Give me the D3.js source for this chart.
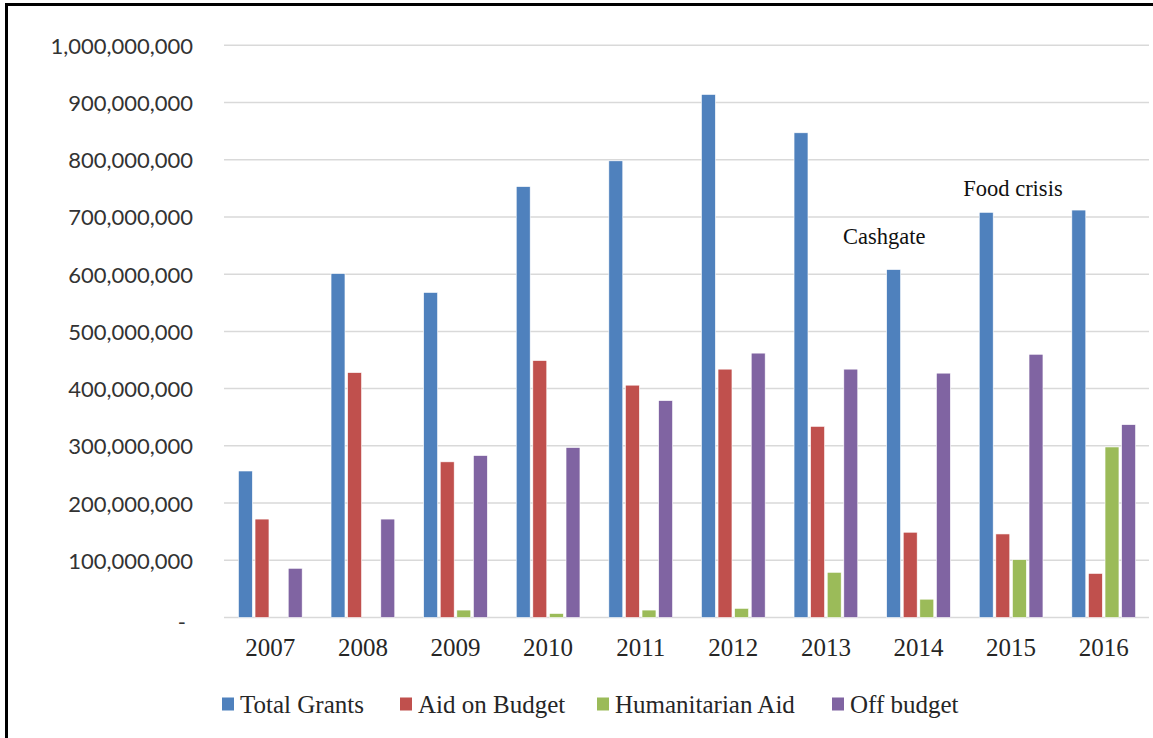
<!DOCTYPE html>
<html>
<head>
<meta charset="utf-8">
<script src="https://cdn.jsdelivr.net/npm/d3@7"></script>
<style>
  html, body { margin: 0; padding: 0; background: #fff; }
  svg { display: block; }
</style>
</head>
<body>
<svg id="chart" width="1153" height="738"></svg>
<script>
// Donor grant flows by year
const years = ["2007", "2008", "2009", "2010", "2011", "2012", "2013", "2014", "2015", "2016"];
const seriesNames = ["Total Grants", "Aid on Budget", "Humanitarian Aid", "Off budget"];
const seriesColors = ["#4F81BD", "#C0504D", "#9BBB59", "#8064A2"];

const totalGrants     = [256e6, 601e6, 568e6, 753e6, 798e6, 914e6, 847e6, 608e6, 708e6, 712e6];
const aidOnBudget     = [172e6, 428e6, 272e6, 449e6, 406e6, 434e6, 334e6, 149e6, 146e6, 77e6];
const humanitarianAid = [0, 0, 13e6, 7e6, 13e6, 16e6, 79e6, 32e6, 101e6, 298e6];
const offBudget       = [86e6, 172e6, 283e6, 297e6, 379e6, 462e6, 434e6, 427e6, 460e6, 337e6];

const yTicks = [0, 100e6, 200e6, 300e6, 400e6, 500e6, 600e6, 700e6, 800e6, 900e6, 1000e6];

// text callouts placed in data space: year band (fractional offset from its centre) and value level
const annotations = [
  { year: "2014", shift: -0.37, level: 665e6, text: "Cashgate" },
  { year: "2015", shift: 0.02, level: 750e6, text: "Food crisis" }
];

const seriesValues = [totalGrants, aidOnBudget, humanitarianAid, offBudget];

const svg = d3.select("#chart");

// outer frame (clipped at right and bottom)
svg.append("rect")
  .attr("x", 6.5).attr("y", 4.5)
  .attr("width", 1200).attr("height", 800)
  .attr("fill", "none").attr("stroke", "#000").attr("stroke-width", 3);

const plotLeft = 224, plotRight = 1150, plotTop = 45.25, plotBottom = 617.5;

const x0 = d3.scaleBand().domain(years).range([plotLeft, plotRight]).padding(0);
const x1 = d3.scaleBand().domain(seriesNames).range([0, x0.bandwidth()])
  .paddingInner(0.16).paddingOuter(0.87);
const y = d3.scaleLinear().domain([0, 1000e6]).range([plotBottom, plotTop]);

// gridlines
svg.append("g").selectAll("line").data(yTicks).join("line")
  .attr("x1", plotLeft).attr("x2", 1149)
  .attr("y1", d => y(d)).attr("y2", d => y(d))
  .attr("stroke", "#d9d9d9").attr("stroke-width", 1.5);

// y axis labels
const fmt = d3.format(",");
svg.append("g").selectAll("text").data(yTicks).join("text")
  .attr("x", d => d === 0 ? 186 : 193)
  .attr("y", d => y(d) + (d === 0 ? 4 : 0))
  .attr("text-anchor", "end")
  .attr("dominant-baseline", "central")
  .attr("font-family", "Lato, 'Liberation Sans', sans-serif")
  .attr("font-size", 22)
  .attr("fill", "#333")
  .text(d => d === 0 ? "-" : fmt(d));

// bars
const rows = years.map((yr, i) => ({ yr, vals: seriesNames.map((s, k) => ({ s, k, v: seriesValues[k][i] })) }));
const groups = svg.append("g").selectAll("g").data(rows).join("g")
  .attr("transform", d => `translate(${x0(d.yr)},0)`);
groups.selectAll("rect").data(d => d.vals.filter(e => e.v > 0)).join("rect")
  .attr("x", d => x1(d.s))
  .attr("width", x1.bandwidth())
  .attr("y", d => y(d.v))
  .attr("height", d => y(0) - y(d.v))
  .attr("fill", d => seriesColors[d.k])
  .attr("stroke", "#fff").attr("stroke-width", 0.6);

// x axis labels
svg.append("g").selectAll("text").data(years).join("text")
  .attr("x", d => x0(d) + x0.bandwidth() / 2)
  .attr("y", 647)
  .attr("text-anchor", "middle")
  .attr("dominant-baseline", "central")
  .attr("font-family", "'Liberation Serif', serif")
  .attr("font-size", 25)
  .attr("fill", "#262626")
  .text(d => d);

// event annotations
svg.append("g").selectAll("text").data(annotations).join("text")
  .attr("x", d => x0(d.year) + x0.bandwidth() * (0.5 + d.shift))
  .attr("y", d => y(d.level))
  .attr("text-anchor", "middle")
  .attr("dominant-baseline", "central")
  .attr("font-family", "'Liberation Serif', serif")
  .attr("font-size", 22.5)
  .attr("fill", "#111")
  .text(d => d.text);

// legend
const legendX = [222, 400, 597, 832];
const legend = svg.append("g").selectAll("g").data(seriesNames).join("g")
  .attr("transform", (d, i) => `translate(${legendX[i]},704)`);
legend.append("rect")
  .attr("x", 0).attr("y", -6.5).attr("width", 12).attr("height", 13)
  .attr("fill", (d, i) => seriesColors[i]);
legend.append("text")
  .attr("x", 18).attr("y", 0)
  .attr("dominant-baseline", "central")
  .attr("font-family", "'Liberation Serif', serif")
  .attr("font-size", 25)
  .attr("fill", "#262626")
  .text(d => d);
</script>
</body>
</html>
